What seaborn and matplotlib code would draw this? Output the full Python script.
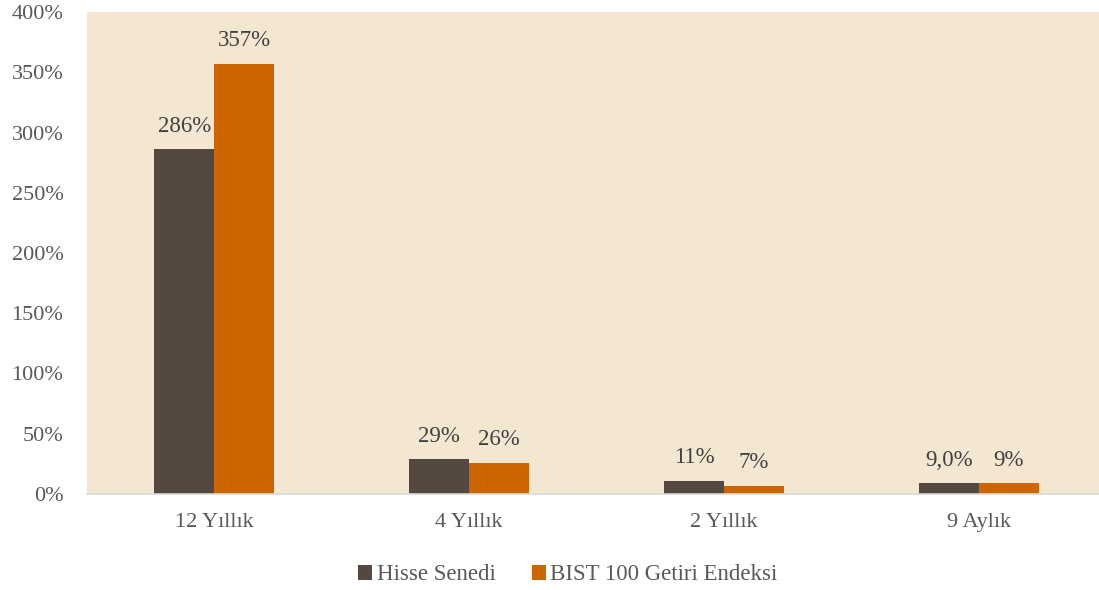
import matplotlib
matplotlib.use("Agg")
import matplotlib.pyplot as plt
import seaborn as sns
import pandas as pd

# Return periods and results
periods = ["12 Yıllık", "4 Yıllık", "2 Yıllık", "9 Aylık"]
series_names = ["Hisse Senedi", "BIST 100 Getiri Endeksi"]
hisse = [286, 29, 11, 9.0]
bist = [357, 26, 7, 9]
hisse_decimals = [0, 0, 0, 1]
bist_decimals = [0, 0, 0, 0]
yticks = [0, 50, 100, 150, 200, 250, 300, 350, 400]

colors = ["#554841", "#CC6600"]
bg = "#F3E7D1"
text_grey = "#595959"
label_grey = "#404040"

df = pd.DataFrame({
    "period": periods * 2,
    "series": [series_names[0]] * len(periods) + [series_names[1]] * len(periods),
    "value": hisse + bist,
})

sns.set_theme(style="white")
plt.rcParams["font.family"] = ["Liberation Serif", "DejaVu Serif"]

fig = plt.figure(figsize=(10.99, 5.90), dpi=100)
# plot area runs slightly past the right edge of the canvas
ax = fig.add_axes([87 / 1099, 1 - 494 / 590, (1106 - 87) / 1099, (494 - 12) / 590])
ax.set_facecolor(bg)

sns.barplot(data=df, x="period", y="value", hue="series", order=periods,
            hue_order=series_names, palette=colors, width=0.471, saturation=1,
            edgecolor="none", linewidth=0, ax=ax)

def fmt(v, d):
    return f"{v:.{d}f}%".replace(".", ",")

for cont, vals, decs in zip(ax.containers, [hisse, bist], [hisse_decimals, bist_decimals]):
    ax.bar_label(cont, labels=[fmt(v, d) for v, d in zip(vals, decs)],
                 padding=9, fontsize=16.5, color=label_grey)

ax.set_xlim(-0.5, len(periods) - 0.5)
ax.set_ylim(0, 400)
ax.set_yticks(yticks)
ax.set_yticklabels([f"{t}%" for t in yticks])
ax.tick_params(axis="both", length=0, labelsize=16, labelcolor=text_grey)
ax.tick_params(axis="x", pad=14)
ax.tick_params(axis="y", pad=17)
ax.set_xlabel("")
ax.set_ylabel("")
for s in ["top", "right", "left"]:
    ax.spines[s].set_visible(False)
ax.spines["bottom"].set_color("#D9D9D9")
ax.spines["bottom"].set_linewidth(1.2)

handles, labels = ax.get_legend_handles_labels()
ax.legend(handles, labels, loc="center", bbox_to_anchor=((568 - 87) / 1019, -0.168),
          ncol=2, frameon=False, fontsize=16.5, labelcolor=text_grey,
          handlelength=0.6, handleheight=0.6, handletextpad=0.2, columnspacing=1.6)

fig.savefig("out.png", dpi=100, facecolor="white")
